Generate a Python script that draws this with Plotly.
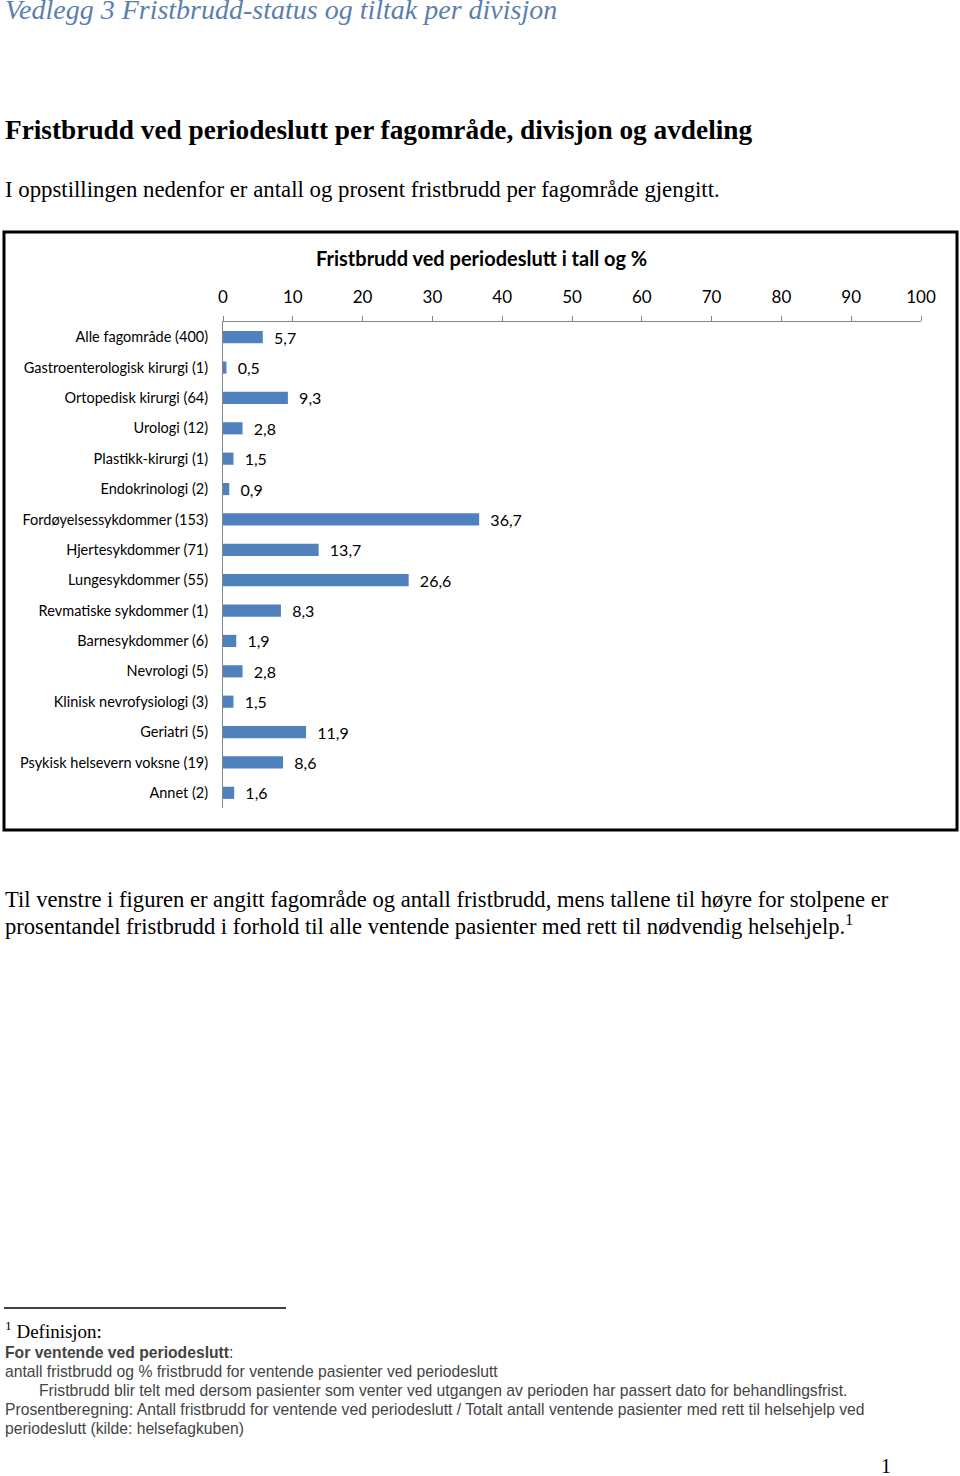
import plotly.graph_objects as go

W, H = 960, 1476

# data
categories = [
    'Alle fagområde (400)', 'Gastroenterologisk kirurgi (1)', 'Ortopedisk kirurgi (64)',
    'Urologi (12)', 'Plastikk-kirurgi (1)', 'Endokrinologi (2)', 'Fordøyelsessykdommer (153)',
    'Hjertesykdommer (71)', 'Lungesykdommer (55)', 'Revmatiske sykdommer (1)',
    'Barnesykdommer (6)', 'Nevrologi (5)', 'Klinisk nevrofysiologi (3)', 'Geriatri (5)',
    'Psykisk helsevern voksne (19)', 'Annet (2)',
]
percent = [5.7, 0.5, 9.3, 2.8, 1.5, 0.9, 36.7, 13.7, 26.6, 8.3, 1.9, 2.8, 1.5, 11.9, 8.6, 1.6]
x_ticks = [0, 10, 20, 30, 40, 50, 60, 70, 80, 90, 100]


def px(x):
    return x / W


def py(y):
    return 1 - y / H


SANS = 'Lato, Open Sans, sans-serif'
SERIF = 'Liberation Serif, serif'
NARROW = 'Liberation Sans Narrow, Liberation Sans, Arial, sans-serif'

fig = go.Figure(go.Bar(
    x=percent,
    y=categories,
    orientation='h',
    marker=dict(color='#4F81BD', line=dict(width=0)),
    # leading spaces push the value labels away from the bar ends like in Excel
    texttemplate='\u00a0\u00a0%{x:.1f}',
    textposition='outside',
    constraintext='none',
    textfont=dict(family=SANS, size=16, color='#000000'),
    cliponaxis=False,
    width=0.4,
))

fig.update_layout(
    width=W, height=H, autosize=False,
    margin=dict(l=0, r=0, t=0, b=0, autoexpand=False),
    paper_bgcolor='white', plot_bgcolor='white',
    separators=', ',
    showlegend=False,
    xaxis=dict(
        domain=[px(223), px(921)], range=[0, 100], side='top',
        tickvals=x_ticks, ticks='outside', ticklen=5, tickcolor='#868686',
        showline=True, linecolor='#868686', linewidth=1, showgrid=False, zeroline=False,
        tickfont=dict(family=SANS, size=17, color='#000000'), ticklabelstandoff=6,
    ),
    yaxis=dict(
        domain=[py(808), py(322)], autorange='reversed',
        showline=True, linecolor='#868686', linewidth=1, showgrid=False,
        ticks='', tickfont=dict(family=SANS, size=14.5, color='#000000'), ticklabelstandoff=11,
    ),
)

# chart frame
fig.add_shape(type='rect', xref='paper', yref='paper',
              x0=px(4), x1=px(957), y0=py(830), y1=py(232),
              line=dict(color='#000000', width=3))

# footnote rule
fig.add_shape(type='line', xref='paper', yref='paper',
              x0=px(4), x1=px(286), y0=py(1308), y1=py(1308),
              line=dict(color='#000000', width=1.5))


def note(x, y, text, family, size, color='#000000', xanchor='left'):
    fig.add_annotation(x=px(x), y=py(y), xref='paper', yref='paper', text=text,
                       showarrow=False, xanchor=xanchor, yanchor='middle',
                       font=dict(family=family, size=size, color=color))


note(3, 10, '<i>Vedlegg 3 Fristbrudd-status og tiltak per divisjon</i>', SERIF, 28, '#5B80AC')
note(3, 130, '<b>Fristbrudd ved periodeslutt per fagområde, divisjon og avdeling</b>', SERIF, 27.3)
note(3, 190, 'I oppstillingen nedenfor er antall og prosent fristbrudd per fagområde gjengitt.', SERIF, 22.8)
note(481, 258, '<b>Fristbrudd ved periodeslutt i tall og %</b>', SANS, 20, xanchor='center')

note(3, 899, 'Til venstre i figuren er angitt fagområde og antall fristbrudd, mens tallene til høyre for stolpene er',
     SERIF, 22.6)
note(3, 925, 'prosentandel fristbrudd i forhold til alle ventende pasienter med rett til nødvendig helsehjelp.<sup>1</sup>',
     SERIF, 22.6)

note(3, 1330, '<sup>1</sup> Definisjon:', SERIF, 19)
note(3, 1352, '<b>For ventende ved periodeslutt</b>:', NARROW, 15.7, '#444444')
note(3, 1371, 'antall fristbrudd og % fristbrudd for ventende pasienter ved periodeslutt', NARROW, 15.7, '#444444')
note(37, 1390, 'Fristbrudd blir telt med dersom pasienter som venter ved utgangen av perioden har passert dato for behandlingsfrist.',
     NARROW, 15.7, '#444444')
note(3, 1409, 'Prosentberegning: Antall fristbrudd for ventende ved periodeslutt / Totalt antall ventende pasienter med rett til helsehjelp ved',
     NARROW, 15.7, '#444444')
note(3, 1428, 'periodeslutt (kilde: helsefagkuben)', NARROW, 15.7, '#444444')
note(886, 1466, '1', SERIF, 20, xanchor='center')

fig.write_html('out.html', config={'displayModeBar': False, 'responsive': False},
               post_script="document.body.style.margin='0';document.body.style.overflow='hidden';")
